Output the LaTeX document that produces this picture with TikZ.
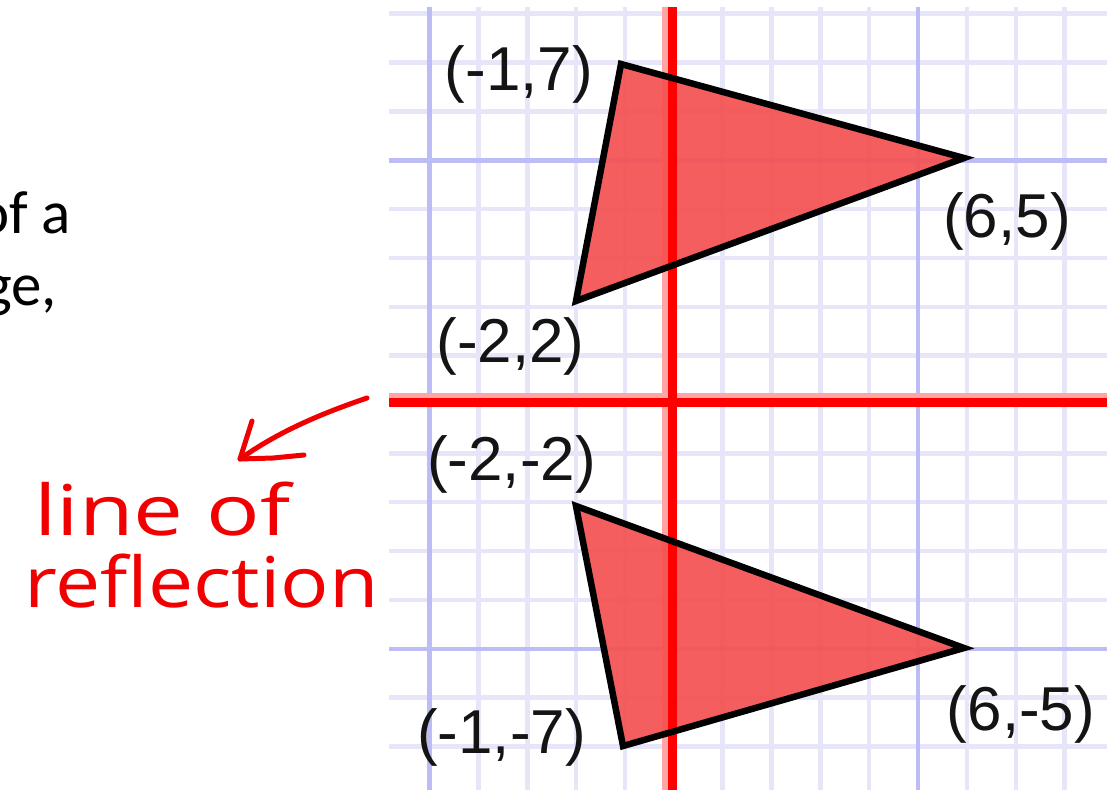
\documentclass[tikz,border=0pt]{standalone}
\usepackage{fontspec}
\setmainfont{Liberation Sans}
\newfontfamily\calibrifont{Carlito}
\newfontfamily\handfont{Open Sans}
\usepackage{graphicx}
\definecolor{gridminor}{RGB}{230,230,248}
\definecolor{gridmajor}{RGB}{188,188,246}
\definecolor{trifill}{RGB}{245,82,82}
\definecolor{axisred}{RGB}{255,0,0}
\definecolor{axispink}{RGB}{255,165,165}
\definecolor{inkred}{RGB}{240,0,0}
\definecolor{labelink}{RGB}{20,20,20}
\begin{document}
\begin{tikzpicture}[x=1pt,y=-1pt,
  minorline/.style={draw=gridminor,line width=4.5pt},
  majorline/.style={draw=gridmajor,line width=4.5pt},
  trishape/.style={fill=trifill,fill opacity=0.93},
  triedge/.style={draw=black,line width=6.5pt,line join=miter},
  axisline/.style={draw=axisred,line width=9pt},
  axishalo/.style={draw=axispink,line width=6pt},
  coordlabel/.style={font=\fontsize{62}{70}\selectfont,text=labelink,inner sep=0pt,anchor=base},
  bodytext/.style={font=\calibrifont\fontsize{61}{72}\selectfont,inner sep=0pt,anchor=base east},
  handtext/.style={font=\handfont\fontsize{70}{80}\selectfont,text=inkred,inner sep=0pt,anchor=base west},
  ink/.style={draw=inkred,line width=5pt,line cap=round,line join=round}]
\useasboundingbox (0,0) rectangle (1107,790);
\begin{scope}
\clip (0,0) rectangle (1107,790);
\fill[white] (0,0) rectangle (1107,790);
% grid
\foreach \k in {-5,...,8} {
  \pgfmathsetmacro\gx{673.8+48.85*\k}
  \draw[minorline] (\gx,7) -- (\gx,790);
}
\foreach \k in {-7,...,8} {
  \pgfmathsetmacro\gy{404.5-48.85*\k}
  \draw[minorline] (389,\gy) -- (1107,\gy);
}
\foreach \k in {-5,5} {
  \pgfmathsetmacro\gx{673.8+48.85*\k}
  \draw[majorline] (\gx,7) -- (\gx,790);
  \pgfmathsetmacro\gy{404.5-48.85*\k}
  \draw[majorline] (389,\gy) -- (1107,\gy);
}
% soft edges of the axes
\draw[axishalo] (389,396) -- (1107,396);
\draw[axishalo] (664.5,7) -- (664.5,790);
% vertices
\coordinate (A) at (621,64);
\coordinate (B) at (576,301);
\coordinate (C) at (964,158);
\coordinate (D) at (576,506);
\coordinate (E) at (623,746);
\coordinate (F) at (964,648);
% triangle fills
\fill[trishape] (A) -- (B) -- (C) -- cycle;
\fill[trishape] (D) -- (E) -- (F) -- cycle;
% axes (line of reflection and y-axis)
\draw[axisline] (389,402.5) -- (1107,402.5);
\draw[axisline] (672,7) -- (672,790);
% triangle outlines
\draw[triedge] (A) -- (B) -- (C) -- cycle;
\draw[triedge] (D) -- (E) -- (F) -- cycle;
% coordinate labels
\node[coordlabel] (lA) at (519,90) {(-1,7)};
\node[coordlabel] (lB) at (510.5,362) {(-2,2)};
\node[coordlabel] (lC) at (1007,237) {(6,5)};
\node[coordlabel] (lD) at (511.5,480) {(-2,-2)};
\node[coordlabel] (lE) at (501.5,753) {(-1,-7)};
\node[coordlabel] (lF) at (1021,730) {(6,-5)};
% body text (cut at the left edge, as in the reference)
\node[bodytext] (body1) at (71,233) {of a};
\node[bodytext] (body2) at (57,305) {ge,};
% handwritten annotation
\node[handtext] (hand1) at (34,535) {\scalebox{1.27}[1]{line of}};
\node[handtext] (hand2) at (24,607) {\scalebox{1.15}[1]{reflection}};
\coordinate (arrowstart) at (367,398);
\coordinate (arrowtip) at (240,459);
\coordinate (headL) at (252,421);
\coordinate (headM) at (273,458);
\coordinate (headR) at (304,455);
\draw[ink] (arrowstart) .. controls (320,414) and (278,432) .. (arrowtip);
\draw[ink] (headL) -- (arrowtip) -- (headM) -- (headR);
\end{scope}
\end{tikzpicture}
\end{document}
